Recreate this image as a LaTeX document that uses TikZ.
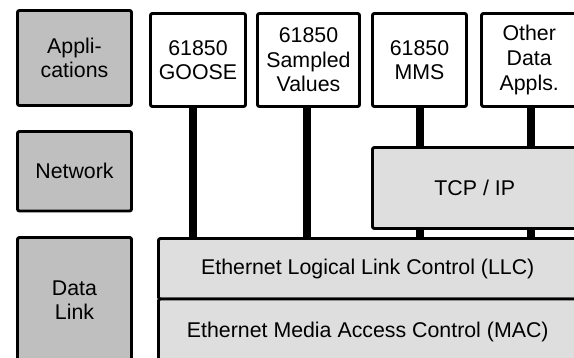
\documentclass[tikz,border=0pt]{standalone}
\usepackage{fontspec}
\setmainfont{Liberation Sans}
\begin{document}
\begin{tikzpicture}[x=0.75pt,y=-0.75pt,
    box/.style={draw, line width=2.2pt, rounded corners=1.5pt, align=center, inner sep=0pt,
        font=\fontsize{16}{18.4}\selectfont},
    osi/.style={box, fill=black!25, minimum width=85.5pt},
    app/.style={box, fill=white, minimum height=69.75pt},
    proto/.style={box, fill=black!13},
    link/.style={line width=6pt}]
\useasboundingbox (0,0) rectangle (574,357);
\clip (0,0) rectangle (574,357);

% layers on the left
\node[osi, minimum height=71.25pt] (apps) at (74.5,58) {Appli-\\cations};
\node[osi, minimum height=59.6pt] (net) at (74.5,171.25) {Network};
\node[osi, minimum height=94.1pt] (dlink) at (74.5,300.25) {Data\\Link};

% applications
\node[app, minimum width=71.25pt] (goose) at (198,60) {61850\\GOOSE};
\node[app, minimum width=76.5pt] (sv) at (308.5,60) {61850\\Sampled\\Values};
\node[app, minimum width=70.5pt] (mms) at (419.5,60) {61850\\MMS};
\node[app, minimum width=71.6pt] (other) at (529.25,60) {Other\\Data\\Appls.};

% protocol stack
\node[proto, minimum width=153.4pt, minimum height=60.75pt] (tcp) at (474.75,188) {TCP / IP};
\node[proto, minimum width=313.9pt, minimum height=45.4pt] (llc) at (367.75,268.75) {Ethernet Logical Link Control (LLC)};
\node[proto, minimum width=313.9pt, minimum height=49.5pt] (mac) at (367.75,332) {Ethernet Media Access Control (MAC)};

% links
\coordinate (gx) at ([xshift=-4.1pt]goose.south);
\coordinate (sx) at ([xshift=-1.1pt]sv.south);
\coordinate (ox) at ([xshift=1.3pt]other.south);
\draw[link] (gx) -- (gx |- llc.north);
\draw[link] (sx) -- (sx |- llc.north);
\draw[link] (mms.south) -- (mms.south |- tcp.north);
\draw[link] (mms.south |- tcp.south) -- (mms.south |- llc.north);
\draw[link] (ox) -- (ox |- tcp.north);
\draw[link] (ox |- tcp.south) -- (ox |- llc.north);
\end{tikzpicture}
\end{document}
